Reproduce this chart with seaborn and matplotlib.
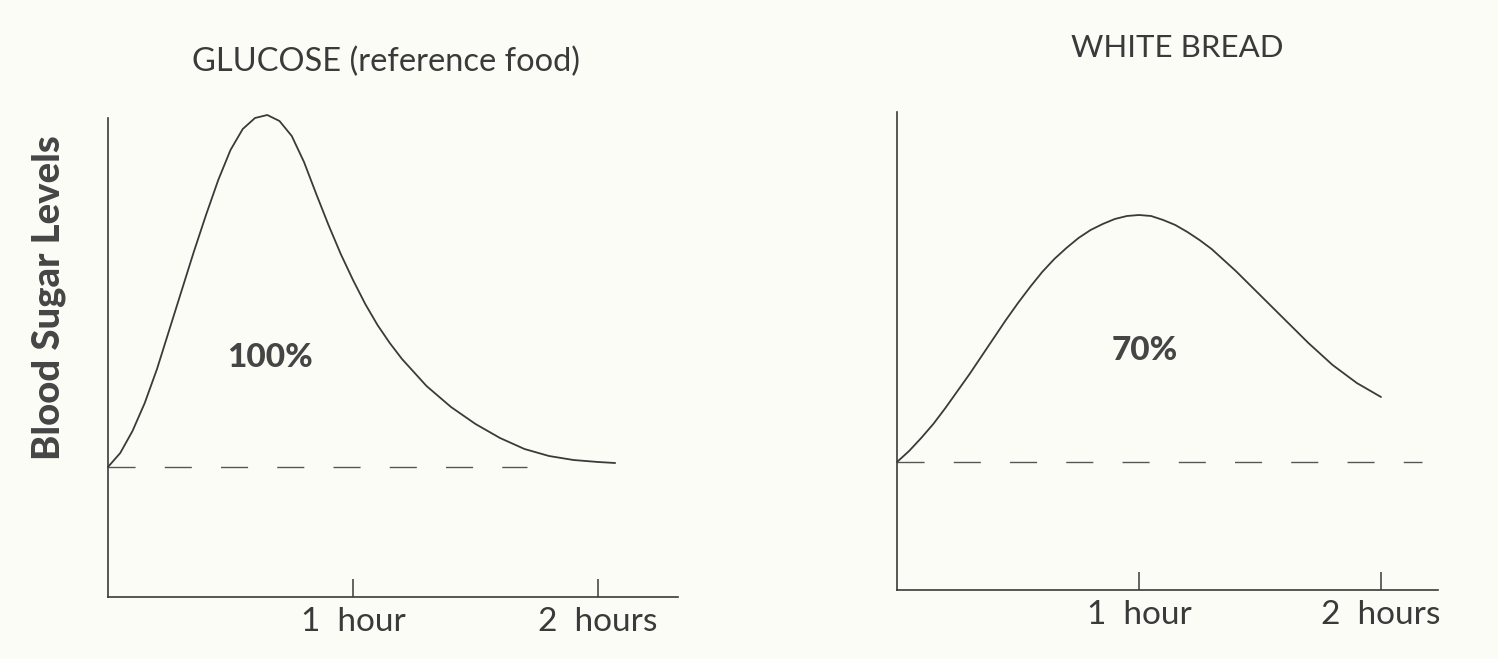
import matplotlib
matplotlib.use("Agg")
import matplotlib.pyplot as plt
import seaborn as sns
import pandas as pd

# glucose (reference food) curve
glucose_hours = [0, 0.05, 0.10, 0.15, 0.20, 0.25, 0.30, 0.35, 0.40, 0.45,
                 0.50, 0.55, 0.60, 0.65, 0.70, 0.75, 0.80, 0.85, 0.90, 0.95,
                 1.00, 1.05, 1.10, 1.15, 1.20, 1.30, 1.40, 1.50, 1.60, 1.70,
                 1.80, 1.90, 2.00, 2.07]
glucose_level = [130, 144, 166, 194, 228, 267, 306, 345, 382, 417,
                 447, 468, 479, 482, 476, 461, 435, 403, 372, 343,
                 317, 293, 272, 254, 238, 211, 190, 173, 159, 148,
                 141, 137, 135, 134]
glucose_base_hours = [0, 1.71]
glucose_base_level = [130, 130]

# white bread curve
bread_hours = [0, 0.05, 0.10, 0.15, 0.20, 0.25, 0.30, 0.35, 0.40, 0.45,
               0.50, 0.55, 0.60, 0.65, 0.70, 0.75, 0.80, 0.85, 0.90, 0.95,
               1.00, 1.05, 1.10, 1.15, 1.20, 1.25, 1.30, 1.35, 1.40, 1.45,
               1.50, 1.55, 1.60, 1.65, 1.70, 1.75, 1.80, 1.85, 1.90, 1.95, 2.00]
bread_level = [128, 139, 152, 166, 182, 199, 216, 234, 252, 270,
               287, 303, 318, 331, 342, 352, 360, 366, 371, 374,
               375, 374, 370, 365, 358, 350, 341, 330, 319, 307,
               295, 283, 271, 259, 247, 236, 225, 216, 207, 200, 193]
bread_base_hours = [0, 2.17]
bread_base_level = [128, 128]

titles = ["GLUCOSE (reference food)", "WHITE BREAD"]
title_sizes = [23.5, 22.5]
pct_labels = ["100%", "70%"]
tick_hours = [1, 2]
tick_labels = ["1  hour", "2  hours"]

bg = "#fcfcf7"
ink = "#3a3a3a"

sns.set_style("white")
plt.rcParams["font.family"] = ["Lato", "DejaVu Sans"]

fig = plt.figure(figsize=(14.98, 6.59), dpi=100, facecolor=bg)
ax1 = fig.add_axes([108 / 1498, 62 / 659, 570 / 1498, 479 / 659])
ax2 = fig.add_axes([897 / 1498, 69 / 659, 541 / 1498, 478 / 659])

panels = [
    (ax1, glucose_hours, glucose_level, glucose_base_hours, glucose_base_level,
     570 / 245, 479, (0.488, 1.117), (0.285, 0.50)),
    (ax2, bread_hours, bread_level, bread_base_hours, bread_base_level,
     541 / 242, 478, (0.518, 1.134), (0.458, 0.50)),
]

for i, (ax, hx, lv, bx, bl, xmax, ymax, tpos, ppos) in enumerate(panels):
    ax.set_facecolor(bg)
    df = pd.DataFrame({"hours": hx, "level": lv})
    sns.lineplot(data=df, x="hours", y="level", ax=ax, color=ink,
                 linewidth=1.3, estimator=None, sort=False, clip_on=False)
    base = pd.DataFrame({"hours": bx, "level": bl})
    sns.lineplot(data=base, x="hours", y="level", ax=ax, color="#555555",
                 linewidth=1.0, estimator=None)
    ax.lines[-1].set_dashes((19.5, 21))

    ax.set_xlim(0, xmax)
    ax.set_ylim(0, ymax)
    for s in ["top", "right"]:
        ax.spines[s].set_visible(False)
    for s in ["left", "bottom"]:
        ax.spines[s].set_color(ink)
        ax.spines[s].set_linewidth(1.2)

    ax.set_yticks([])
    ax.set_xticks(tick_hours)
    ax.set_xticklabels(tick_labels)
    ax.tick_params(axis="x", bottom=True, direction="in", length=13,
                   width=1.1, color=ink, labelsize=24, labelcolor=ink, pad=7)
    ax.set_xlabel("")
    ax.set_ylabel("")

    ax.text(tpos[0], tpos[1], titles[i], transform=ax.transAxes,
            ha="center", va="center", fontsize=title_sizes[i], color=ink)
    ax.text(ppos[0], ppos[1], pct_labels[i], transform=ax.transAxes,
            ha="center", va="center", fontsize=24, fontweight="black",
            color="#454545")

ax1.set_ylabel("Blood Sugar Levels", fontsize=27.5, fontweight="black",
               color="#454545")
ax1.yaxis.set_label_coords(-0.074, 0.624)

fig.savefig("out.png", dpi=100, facecolor=bg)
